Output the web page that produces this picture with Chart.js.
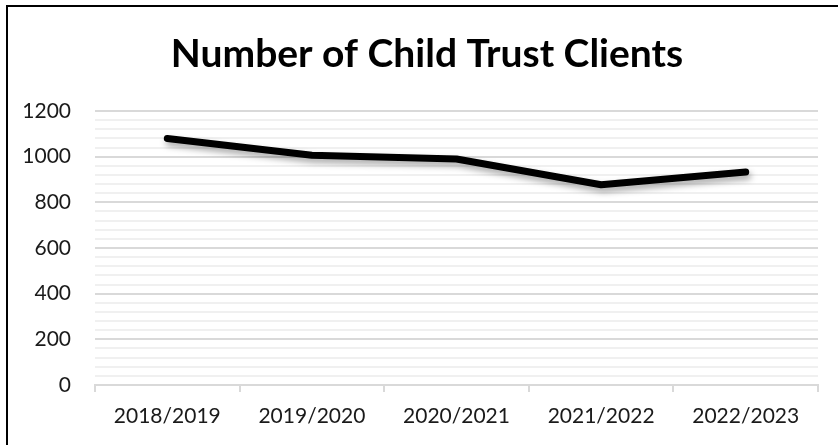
<!DOCTYPE html>
<html>
<head>
<meta charset="utf-8">
<script src="https://cdn.jsdelivr.net/npm/chart.js@4/dist/chart.umd.min.js"></script>
<style>
    html, body { margin: 0; padding: 0; background: #fff; }
    #wrap { position: relative; width: 838px; height: 445px; }
</style>
</head>
<body>
<div id="wrap"><canvas id="chart" width="838" height="445"></canvas></div>
<script>
const chartTitle = 'Number of Child Trust Clients';
const seasons = ['2018/2019', '2019/2020', '2020/2021', '2021/2022', '2022/2023'];
const clients = [1080, 1006, 990, 877, 933];
const yMax = 1200;
const yMajorStep = 200;
const yMinorStep = 40;

// frame around the chart (only top and left edge are inside the canvas)
const framePlugin = {
    id: 'frame',
    afterDraw(chart) {
        const ctx = chart.ctx;
        ctx.save();
        ctx.fillStyle = '#000';
        ctx.fillRect(6, 5, chart.width, 2);
        ctx.fillRect(6, 5, 2, chart.height);
        ctx.restore();
    }
};

// title centred on the frame rather than on the plot
const headerPlugin = {
    id: 'header',
    afterDraw(chart) {
        const ctx = chart.ctx;
        ctx.save();
        ctx.fillStyle = '#000';
        ctx.font = 'bold 39px Lato';
        ctx.textAlign = 'center';
        ctx.textBaseline = 'alphabetic';
        ctx.fillText(chartTitle, 427, 67);
        ctx.restore();
    }
};

// soft drop shadow under the line
const shadowPlugin = {
    id: 'lineShadow',
    beforeDatasetDraw(chart) {
        const ctx = chart.ctx;
        ctx.save();
        ctx.shadowColor = 'rgba(0, 0, 0, 0.35)';
        ctx.shadowBlur = 6;
        ctx.shadowOffsetX = 2;
        ctx.shadowOffsetY = 4;
    },
    afterDatasetDraw(chart) {
        chart.ctx.restore();
    }
};

const ctx = document.getElementById('chart').getContext('2d');
new Chart(ctx, {
    type: 'line',
    data: {
        labels: seasons,
        datasets: [{
            data: clients,
            borderColor: '#000',
            borderWidth: 7,
            borderCapStyle: 'round',
            borderJoinStyle: 'round',
            pointRadius: 0,
            tension: 0,
            fill: false
        }]
    },
    plugins: [framePlugin, headerPlugin, shadowPlugin],
    options: {
        responsive: false,
        animation: false,
        layout: {
            padding: { left: 10, right: 20, top: 111, bottom: 0 }
        },
        plugins: {
            legend: { display: false },
            tooltip: { enabled: false },
            title: { display: false }
        },
        scales: {
            x: {
                offset: true,
                grid: {
                    offset: true,
                    drawOnChartArea: false,
                    drawTicks: true,
                    tickLength: 7,
                    color: '#d9d9d9',
                    lineWidth: 2
                },
                border: { color: '#d9d9d9', width: 2 },
                ticks: {
                    color: '#1a1a1a',
                    font: { family: 'Lato', size: 21 },
                    padding: 12,
                    maxRotation: 0,
                    autoSkip: false
                },
                afterFit: function(scale) { scale.height = 60; }
            },
            y: {
                min: 0,
                max: yMax,
                grid: {
                    drawTicks: false,
                    color: function(context) {
                        return context.tick.value % yMajorStep === 0 ? '#d9d9d9' : '#f0f0f0';
                    },
                    lineWidth: 2
                },
                border: { display: false },
                ticks: {
                    stepSize: yMinorStep,
                    autoSkip: false,
                    maxTicksLimit: 40,
                    color: '#1a1a1a',
                    font: { family: 'Lato', size: 21 },
                    padding: 24,
                    callback: function(value) {
                        return value % yMajorStep === 0 ? value : '';
                    }
                },
                afterFit: function(scale) { scale.width = 85; }
            }
        }
    }
});
</script>
</body>
</html>
